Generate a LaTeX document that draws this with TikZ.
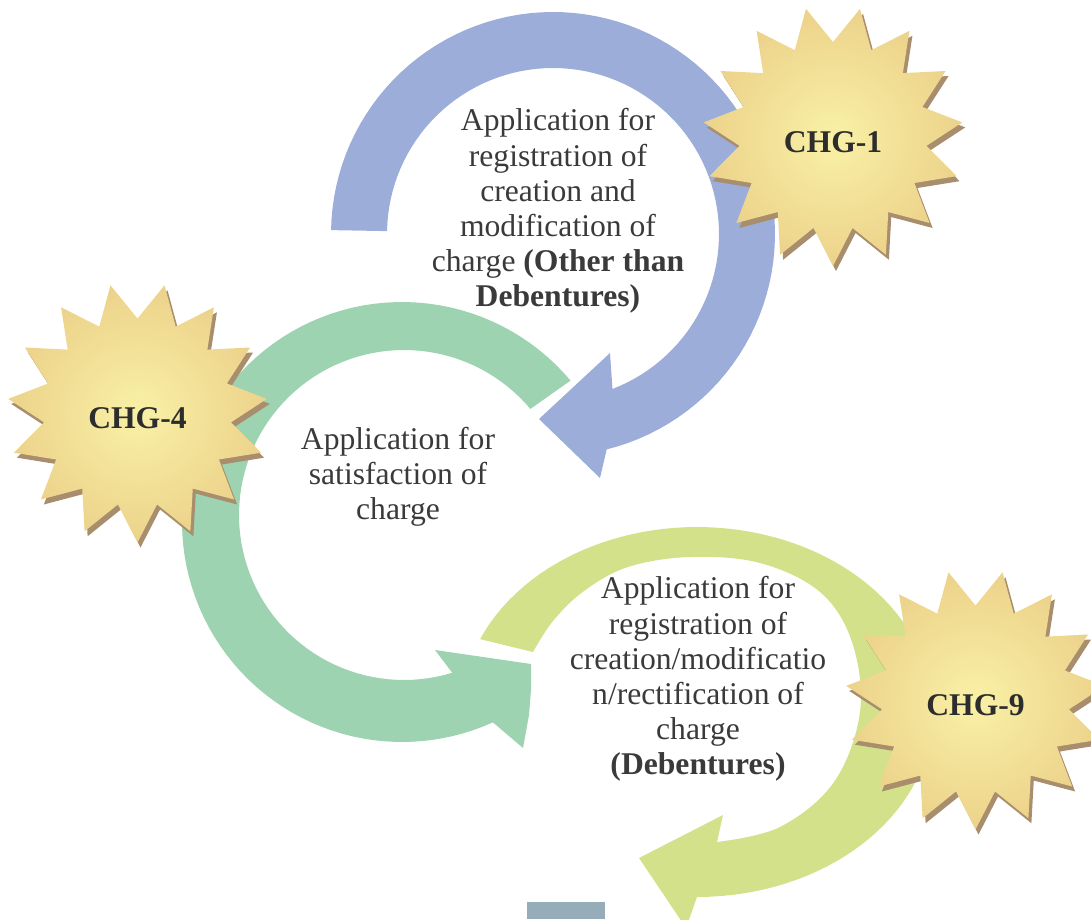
\documentclass[tikz,border=0pt]{standalone}
\usepackage{fontspec}
\setmainfont{Liberation Serif}

\definecolor{arcblue}{RGB}{155,173,216}
\definecolor{arcgreen}{RGB}{157,211,176}
\definecolor{arclime}{RGB}{211,225,138}
\definecolor{burstin}{RGB}{249,241,166}
\definecolor{burstmid}{RGB}{238,214,142}
\definecolor{burstout}{RGB}{224,189,121}
\definecolor{burstshadow}{RGB}{168,142,108}
\definecolor{inkgray}{RGB}{58,58,58}
\definecolor{labelink}{RGB}{45,45,45}
\definecolor{tabgray}{RGB}{151,172,185}

\pgfdeclareradialshading{burstglow}{\pgfpoint{0bp}{0bp}}{color(0bp)=(burstin); color(22bp)=(burstmid); color(42bp)=(burstout); color(50bp)=(burstout)}

\tikzset{
  bodytext/.style={text=inkgray, align=center, inner sep=0pt,
    font=\fontsize{18}{20}\selectfont},
  burstlabel/.style={text=labelink, inner sep=0pt,
    font=\bfseries\fontsize{18}{20}\selectfont},
}

% 15-point starburst with a drop shadow: #1 name, #2 x, #3 y, #4 label
\newcommand\drawburst[4]{%
  \fill[burstshadow] plot[samples at={0,...,29}]
    ({#2+3+ifthenelse(mod(\x,2)==0,130,94)*cos(90+12*\x)},
     {#3+5+ifthenelse(mod(\x,2)==0,130,94)*sin(90+12*\x)}) -- cycle;
  \shade[shading=burstglow] plot[samples at={0,...,29}]
    ({#2+ifthenelse(mod(\x,2)==0,130,94)*cos(90+12*\x)},
     {#3+ifthenelse(mod(\x,2)==0,130,94)*sin(90+12*\x)}) -- cycle;
  \node[burstlabel] (#1) at (#2,#3+6) {#4};
}

\begin{document}
\begin{tikzpicture}[x=0.02cm, y=-0.02cm]
\useasboundingbox (0,0) rectangle (1091,919);

% blue circular arrow (top)
\fill[arcblue]
  plot[domain=181:436, samples=90] ({553+222*cos(\x)}, {234+222*sin(\x)})
  -- (600,478) -- (539,419) -- (610,353)
  -- plot[domain=429:181, samples=90] ({553+166*cos(\x)}, {234+166*sin(\x)})
  -- cycle;

% green circular arrow (left)
\fill[arcgreen]
  plot[domain=320:65.6, samples=90] ({402+220*cos(\x)}, {522+220*sin(\x)})
  -- (523,748) -- (529,715) -- (531,690) -- (531,664) -- (435,650)
  -- plot[domain=73:320, samples=90] ({404+165*cos(\x)}, {515+165*sin(\x)})
  -- cycle;

% lime circular arrow (bottom right), band narrowing towards its tail
\fill[arclime]
  plot[domain=203.2:450, samples=90] ({697+236*cos(\x)}, {712+185*sin(\x)})
  -- (686,928) -- (639,858) -- (723,815)
  -- plot[smooth, tension=0.6] coordinates {(717,842) (780,827) (834,782)
       (860,712) (852,642) (820,592) (760,563) (690,557) (628,567)
       (584,591) (553,621) (533,652)}
  -- cycle;

% small tab at the bottom edge
\fill[tabgray] (527,902) rectangle (605,919);

% starbursts
\drawburst{chg1}{833}{136}{CHG-1}
\drawburst{chg4}{137.5}{412.5}{CHG-4}
\drawburst{chg9}{975.5}{699.5}{CHG-9}

% descriptions
\node[bodytext] (t1) at (558,211) {Application for\\registration of\\creation and\\modification of\\charge \textbf{(Other than}\\\textbf{Debentures)}};
\node[bodytext] (t4) at (398,477) {Application for\\satisfaction of\\charge};
\node[bodytext] (t9) at (698,679) {Application for\\registration of\\creation/modificatio\\n/rectification of\\charge\\\textbf{(Debentures)}};
\end{tikzpicture}
\end{document}
